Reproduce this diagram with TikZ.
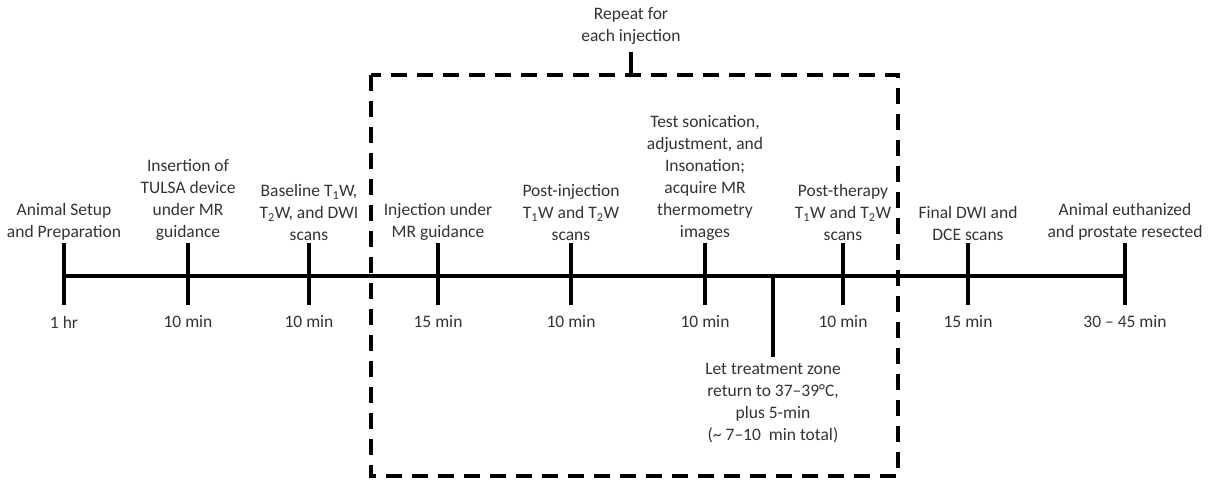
\documentclass[tikz,border=0pt]{standalone}
\usepackage{fontspec}
\setmainfont{Carlito}
\begin{document}
\begin{tikzpicture}[x=1pt,y=-1pt,
  lbl/.style={align=center,font=\fontsize{17.5}{22}\selectfont,text=black!80,inner sep=0pt},
  bar/.style={line width=3.5pt},
  dbox/.style={line width=3.5pt,dash pattern=on 16pt off 10pt}]
\useasboundingbox (0,0) rectangle (1211,481);
% dashed repeat box
\draw[dbox] (371,75) rectangle (898,476);
\coordinate (rpb) at (631,75);
\node[lbl] (rep) at (631,26) {Repeat for\\each injection};
\draw[bar] (631,52) -- (rpb);
% timeline
\coordinate (L) at (64,276);
\coordinate (R) at (1125,276);
\draw[bar] (L) -- (R);
\foreach \i/\x in {1/64,2/188,3/309,4/438,5/571,6/705,7/843,8/968,9/1125}{
  \coordinate (tt\i) at (\x,243);
  \coordinate (tb\i) at (\x,305);
  \draw[bar] (tt\i) -- (tb\i);
}
\coordinate (xt) at (773,276);
\coordinate (xb) at (773,357);
\draw[bar] (xt) -- (xb);
% labels above
\node[lbl,anchor=south] (a1) at (64,241) {Animal Setup\\and Preparation};
\node[lbl,anchor=south] (a2) at (188,241) {Insertion of\\TULSA device\\under MR\\guidance};
\node[lbl,anchor=south] (a3) at (309,241) {Baseline T\textsubscript{1}W,\\T\textsubscript{2}W, and DWI\\scans};
\node[lbl,anchor=south] (a4) at (438,241) {Injection under\\MR guidance};
\node[lbl,anchor=south] (a5) at (571,241) {Post-injection\\T\textsubscript{1}W and T\textsubscript{2}W\\scans};
\node[lbl,anchor=south] (a6) at (705,241) {Test sonication,\\adjustment, and\\Insonation;\\acquire MR\\thermometry\\images};
\node[lbl,anchor=south] (a7) at (843,241) {Post-therapy\\T\textsubscript{1}W and T\textsubscript{2}W\\scans};
\node[lbl,anchor=south] (a8) at (968,241) {Final DWI and\\DCE scans};
\node[lbl,anchor=south] (a9) at (1125,241) {Animal euthanized\\and prostate resected};
% durations
\node[lbl] (d1) at (64,322) {1 hr};
\node[lbl] (d2) at (188,322) {10 min};
\node[lbl] (d3) at (309,322) {10 min};
\node[lbl] (d4) at (438,322) {15 min};
\node[lbl] (d5) at (571,322) {10 min};
\node[lbl] (d6) at (705,322) {10 min};
\node[lbl] (d7) at (843,322) {10 min};
\node[lbl] (d8) at (968,322) {15 min};
\node[lbl] (d9) at (1125,322) {30 – 45 min};
\node[lbl,anchor=north] (cool) at (773,363) {Let treatment zone\\return to 37–39°C,\\plus 5-min\\(\textasciitilde\ 7–10\ \ min total)};
\end{tikzpicture}
\end{document}
